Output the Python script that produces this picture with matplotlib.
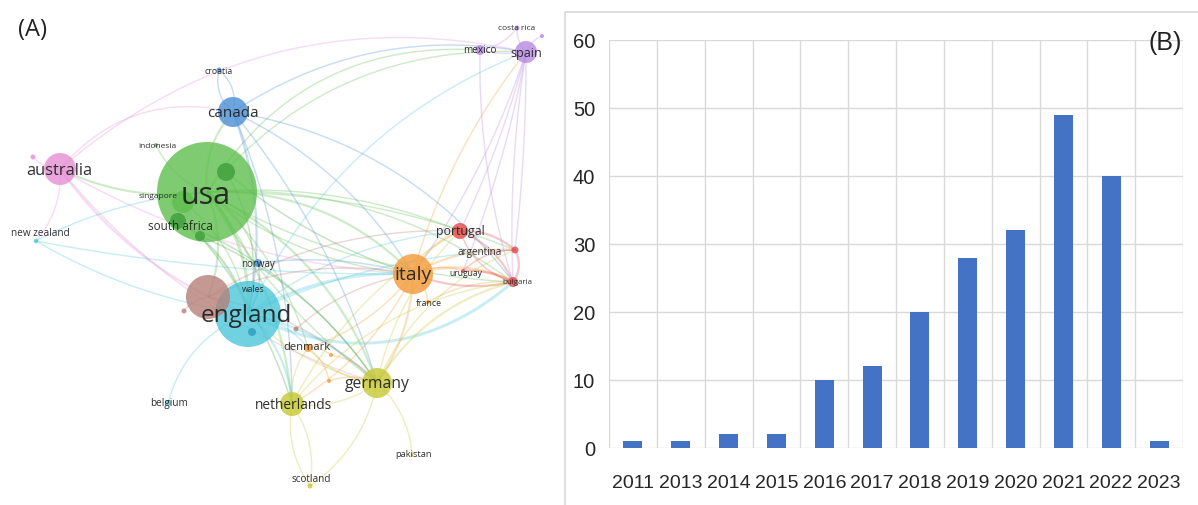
import numpy as np
import matplotlib
matplotlib.use("Agg")
import matplotlib.pyplot as plt
from matplotlib.patches import Circle, Rectangle
from matplotlib.collections import LineCollection

# ---------------- co-authorship map: nodes ----------------
names = ["usa", "usa_b", "usa_c", "singapore", "south africa", "indonesia",
         "canada", "croatia", "norway",
         "australia", "australia_b",
         "england", "wales", "new zealand", "belgium",
         "brown_a", "brown_b", "brown_c",
         "netherlands", "germany", "scotland", "pakistan",
         "italy", "denmark", "orange_b", "orange_c", "france",
         "portugal", "argentina", "uruguay", "bulgaria",
         "spain", "mexico", "costa rica", "spain_b"]
node_x = [207, 226, 200, 183, 178, 156,
          233, 219, 258,
          60, 33,
          248, 252, 36, 168,
          208, 184, 296,
          292, 377, 310, 412,
          413, 308, 331, 329, 428,
          460, 515, 463, 513,
          526, 480, 517, 542]
node_y = [193, 173, 237, 203, 222, 146,
          113, 71, 264,
          170, 158,
          315, 333, 242, 404,
          298, 312, 330,
          405, 384, 487, 456,
          275, 349, 356, 382, 303,
          232, 251, 272, 283,
          53, 51, 29, 37]
node_r = [50, 9, 5, 11, 8, 2,
          15, 2.5, 4,
          16, 2.5,
          33, 4, 2.2, 3,
          22, 2.5, 2.5,
          12, 15, 2.5, 1.5,
          20, 4, 2, 2, 2,
          8, 3.5, 2, 5,
          11, 5, 2.5, 2]
node_cluster = ["green", "green2", "green2", "green", "green2", "green",
                "blue", "blue", "blue",
                "pink", "pink",
                "cyan", "cyan2", "cyan", "cyan",
                "brown", "brown", "brown",
                "yellow", "yellow", "yellow", "yellow",
                "orange", "orange", "orange", "orange", "orange",
                "red", "red", "red", "red",
                "purple", "purple", "purple", "purple"]

# labels: text, font size (pt), centre position
labels = ["usa", "", "", "singapore", "south africa", "indonesia",
          "canada", "croatia", "norway",
          "australia", "",
          "england", "wales", "new zealand", "belgium",
          "", "", "",
          "netherlands", "germany", "scotland", "pakistan",
          "italy", "denmark", "", "", "france",
          "portugal", "argentina", "uruguay", "bulgaria",
          "spain", "mexico", "costa rica", ""]
label_pt = [22, 0, 0, 6, 8.5, 6,
            11, 6.3, 7,
            11.8, 0,
            17.5, 6.2, 7.2, 7.2,
            0, 0, 0,
            9.9, 11.3, 7.2, 6.7,
            14, 8, 0, 0, 6.3,
            8.9, 7.1, 6.2, 5.7,
            9, 7.2, 6, 0]
label_x = [206, 0, 0, 158, 180, 157,
           233, 219, 258,
           59, 0,
           246, 253, 40, 169,
           0, 0, 0,
           294, 377, 311, 414,
           413, 307, 0, 0, 429,
           460, 480, 466, 517,
           526, 480, 517, 0]
label_y = [196, 0, 0, 197, 227, 146,
           113, 71, 264,
           171, 0,
           316, 290, 233, 404,
           0, 0, 0,
           406, 384, 480, 455,
           275, 348, 0, 0, 304,
           232, 252, 273, 283,
           53, 50, 28, 0]

# ---------------- co-authorship map: links (from, to, strength, bend) ----------------
links = [
    ("usa", "canada", 2, 0.22), ("usa", "australia", 2, 0.15), ("usa", "england", 3, 0.2),
    ("usa", "italy", 2, 0.22), ("usa", "germany", 2, 0.2), ("usa", "spain", 1, 0.25),
    ("usa", "portugal", 1, 0.12), ("usa", "bulgaria", 1, 0.18), ("usa", "netherlands", 2, 0.15),
    ("usa", "mexico", 1, 0.3), ("usa", "brown_a", 2, 0.2), ("usa", "norway", 1, 0.2),
    ("usa", "denmark", 1, 0.15), ("usa", "argentina", 1, 0.1), ("usa", "indonesia", 1, 0.2),
    ("usa_b", "italy", 1, -0.1), ("usa_b", "england", 1, 0.2), ("south africa", "england", 2, 0.2),
    ("south africa", "germany", 1, 0.15), ("singapore", "england", 1, 0.2),
    ("usa_c", "netherlands", 1, 0.1), ("usa_c", "germany", 1, 0.15),
    ("usa", "bulgaria", 1, -0.12), ("usa", "italy", 1, -0.15), ("usa", "germany", 1, -0.1),
    ("canada", "croatia", 1, 0.3), ("croatia", "canada", 1, 0.3), ("canada", "spain", 1, 0.2),
    ("canada", "italy", 1, 0.15), ("canada", "england", 2, 0.15), ("canada", "bulgaria", 1, 0.2),
    ("canada", "germany", 1, 0.1), ("canada", "netherlands", 1, 0.1),
    ("australia", "canada", 1, 0.3), ("australia", "england", 2, -0.15),
    ("australia", "new zealand", 1, 0.2), ("australia", "italy", 1, -0.12),
    ("australia", "germany", 1, -0.15), ("australia", "australia_b", 1, 0.2),
    ("australia", "spain", 1, 0.25),
    ("new zealand", "england", 1, -0.1), ("new zealand", "usa", 1, 0.1),
    ("new zealand", "italy", 1, -0.05),
    ("england", "italy", 3, 0.15), ("england", "germany", 2, 0.15), ("england", "bulgaria", 3, -0.33),
    ("england", "portugal", 1, 0.15), ("england", "netherlands", 2, 0.2),
    ("england", "belgium", 1, -0.25), ("england", "denmark", 1, 0.2),
    ("england", "argentina", 1, 0.1), ("england", "spain", 1, 0.2),
    ("norway", "england", 1, 0.2), ("norway", "italy", 1, 0.1),
    ("italy", "bulgaria", 3, 0.2), ("italy", "argentina", 2, 0.15), ("italy", "portugal", 2, 0.2),
    ("italy", "germany", 2, 0.15), ("italy", "uruguay", 1, 0.2), ("italy", "spain", 1, 0.1),
    ("italy", "denmark", 1, 0.15), ("italy", "netherlands", 1, 0.15), ("italy", "france", 1, 0.2),
    ("portugal", "bulgaria", 2, 0.2), ("argentina", "bulgaria", 2, 0.3),
    ("uruguay", "bulgaria", 2, 0.15), ("france", "bulgaria", 1, 0.15),
    ("portugal", "argentina", 2, 0.2), ("uruguay", "argentina", 1, 0.2),
    ("bulgaria", "italy", 2, 0.15), ("bulgaria", "portugal", 1, 0.25),
    ("germany", "bulgaria", 2, 0.2), ("germany", "netherlands", 1, 0.2),
    ("germany", "scotland", 1, 0.2), ("germany", "pakistan", 1, 0.2),
    ("germany", "england", 1, 0.15), ("germany", "denmark", 1, 0.2),
    ("germany", "portugal", 1, 0.15), ("germany", "argentina", 1, 0.2),
    ("netherlands", "scotland", 1, 0.2), ("scotland", "netherlands", 1, 0.2),
    ("spain", "mexico", 1, 0.1), ("spain", "costa rica", 1, 0.2), ("costa rica", "mexico", 1, 0.2),
    ("spain", "spain_b", 1, 0.2), ("spain", "portugal", 1, 0.05), ("spain", "bulgaria", 1, -0.05),
    ("spain", "argentina", 1, 0.03), ("mexico", "bulgaria", 1, -0.08), ("spain", "uruguay", 1, 0.05),
    ("spain", "italy", 1, 0.08),
    ("brown_a", "italy", 1, 0.15), ("brown_a", "germany", 1, 0.15), ("brown_c", "italy", 1, 0.15),
    ("brown_b", "brown_a", 1, 0.2), ("brown_a", "portugal", 1, 0.15),
    ("denmark", "orange_b", 1, 0.2), ("denmark", "orange_c", 1, 0.2),
    ("orange_c", "germany", 1, 0.2), ("orange_b", "germany", 1, 0.2),
    ("netherlands", "denmark", 1, 0.2), ("netherlands", "portugal", 1, 0.15),
    ("netherlands", "bulgaria", 1, 0.2),
]

cluster_color = {
    "green": "#5fbf4e", "green2": "#3e9f3c", "blue": "#4b8fd5",
    "pink": "#e58fd4", "cyan": "#4cc6da", "cyan2": "#2a9dbd",
    "brown": "#b78078", "yellow": "#c6c832", "orange": "#f39a38",
    "red": "#e4474a", "purple": "#b78ae2",
}

fig = plt.figure(figsize=(11.98, 5.06), dpi=100)

ax_map = fig.add_axes([0, 0, 555 / 1198, 1])
ax_map.set_xlim(0, 555)
ax_map.set_ylim(506, 0)
ax_map.axis("off")

idx = {n: i for i, n in enumerate(names)}
t = np.linspace(0, 1, 60)[:, None]
segs, cols, widths = [], [], []
for a, b, w, bend in links:
    p0 = np.array([node_x[idx[a]], node_y[idx[a]]], float)
    p1 = np.array([node_x[idx[b]], node_y[idx[b]]], float)
    d = p1 - p0
    ctrl = (p0 + p1) / 2 + bend * np.array([d[1], -d[0]])
    curve = (1 - t) ** 2 * p0 + 2 * (1 - t) * t * ctrl + t ** 2 * p1
    segs.append(curve)
    cols.append(matplotlib.colors.to_rgba(cluster_color[node_cluster[idx[a]]], 0.3))
    widths.append(0.5 + 0.55 * w)
ax_map.add_collection(LineCollection(segs, colors=cols, linewidths=widths, zorder=1))

order = np.argsort(node_r)[::-1]
for i in order:
    ax_map.add_patch(Circle((node_x[i], node_y[i]), node_r[i],
                            color=cluster_color[node_cluster[i]], alpha=0.8,
                            lw=0, zorder=2))

for i, lab in enumerate(labels):
    if lab:
        ax_map.text(label_x[i], label_y[i], lab, fontsize=label_pt[i],
                    family="Open Sans", color="#1f1f1f", alpha=0.92,
                    ha="center", va="center", zorder=3)

fig.text(18 / 1198, 1 - 30 / 506, "(A)", fontsize=17, family="Open Sans",
         color="#222222", va="center", ha="left")

# ---------------- publications per year ----------------
years = ["2011", "2013", "2014", "2015", "2016", "2017",
         "2018", "2019", "2020", "2021", "2022", "2023"]
counts = [1, 1, 2, 2, 10, 12, 20, 28, 32, 49, 40, 1]

fig.add_artist(Rectangle((565 / 1198, -0.05), 0.6, 1.05 - 13 / 506,
                         transform=fig.transFigure, fill=False,
                         edgecolor="#d9d9d9", lw=1.2))

ax = fig.add_axes([609 / 1198, 57 / 506, 574 / 1198, 408 / 506])
pos = np.arange(len(years))
ax.bar(pos, counts, width=0.4, color="#4472c4", zorder=2)
ax.set_xlim(-0.5, len(years) - 0.5)
ax.set_ylim(0, 60)
ax.set_yticks(range(0, 61, 10))
ax.set_xticks(pos)
ax.set_xticklabels(years)
ax.set_xticks(np.arange(-0.5, len(years), 1), minor=True)
ax.grid(which="minor", axis="x", color="#d9d9d9", lw=1.0)
ax.grid(which="major", axis="y", color="#d9d9d9", lw=1.0)
ax.grid(which="major", axis="x", visible=False)
ax.set_axisbelow(True)
for s in ax.spines.values():
    s.set_visible(False)
ax.tick_params(which="both", length=0)
ax.tick_params(axis="x", pad=19, labelsize=14, labelcolor="#262626")
ax.tick_params(axis="y", pad=10, labelsize=14.5, labelcolor="#262626")
for lab in ax.get_xticklabels() + ax.get_yticklabels():
    lab.set_family("Liberation Sans")

fig.text(1165 / 1198, 1 - 43 / 506, "(B)", fontsize=18, family="Liberation Sans",
         color="#222222", ha="center", va="center")

fig.savefig("out.png", dpi=100, facecolor="white")
